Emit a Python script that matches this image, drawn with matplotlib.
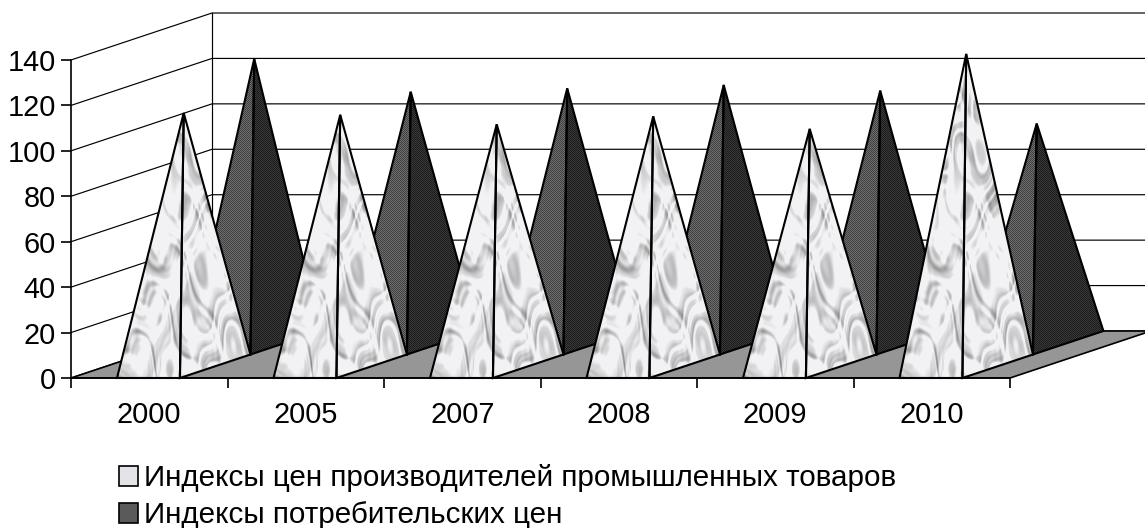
import matplotlib
matplotlib.use('Agg')
import matplotlib.pyplot as plt
from matplotlib.patches import Polygon, Patch
import numpy as np

years = ['2000', '2005', '2007', '2008', '2009', '2010']
producer_index = [111.5, 110.7, 106.5, 110.0, 104.5, 137.5]
consumer_index = [125.0, 110.5, 112.0, 113.5, 111.0, 96.5]
value_ticks = [0, 20, 40, 60, 80, 100, 120, 140]
series_names = ['Индексы цен производителей промышленных товаров',
                'Индексы потребительских цен']

W, H = 1145, 528
FONT = 'Liberation Sans'
# one category / one value in pixels, and the oblique shift of one series slot
CAT_PX = 156.5
VAL_PX = 318 / 140
DEPTH_X = 70.5 / CAT_PX
DEPTH_Y = 23.5 / VAL_PX
SLOTS = 2
BAR_L, BAR_R, BAR_MID = 0.294, 0.696, 0.495


def marble():
    # soft mottled grey made of warped sines, repeats once per category
    yy, xx = np.mgrid[0:H, 0:W]
    x = (xx % CAT_PX) * 2 * np.pi / CAT_PX
    y = yy + 14 * np.sin(2 * x + yy / 23) + 9 * np.sin(5 * x - yy / 17)
    x = x + 0.5 * np.sin(yy / 29 + 3 * x) + 0.3 * np.sin(yy / 13 - 4 * x)
    n = np.zeros((H, W))
    for a, fx, wy, ph in [(1.0, 2, 83, 0.3), (1.0, 3, -61, 1.7), (1.0, 5, 47, 4.1),
                          (0.9, 7, -41, 2.2), (0.8, 8, 33, 5.3), (0.6, 11, -27, 0.9),
                          (0.5, 13, 19, 3.3)]:
        n += a * np.sin(fx * x + y * 2 * np.pi / wy + ph)
    n = np.clip((n + 0.3) / 4.6, 0, 1)
    g = 242 - 100 * n
    return np.dstack([g, g, g + 3 * (1 - n)]).clip(0, 255) / 255


def pt(c, v, d=0):
    return (c + d * DEPTH_X, v + d * DEPTH_Y)


def dither(dark, light):
    yy, xx = np.mgrid[0:H, 0:W]
    g = np.where((xx + yy) % 2 == 0, dark, light)
    return np.dstack([g, g, g]) / 255


fig = plt.figure(figsize=(W / 100, H / 100), dpi=100)
ax = fig.add_axes([0, 0, 1, 1])
xlim = (-71 / CAT_PX, (W - 71) / CAT_PX)
ylim = ((378 - H) / VAL_PX, 378 / VAL_PX)
extent = (xlim[0], xlim[1], ylim[0], ylim[1])

# walls and floor
for v in value_ticks:
    ax.plot(*zip(pt(0, v), pt(0, v, SLOTS), pt(6, v, SLOTS)), color='black', lw=0.85, zorder=1)
ax.plot(*zip(pt(0, 0, SLOTS), pt(0, 140, SLOTS)), color='black', lw=0.85, zorder=1)
ax.add_patch(Polygon([pt(0, 0), pt(6, 0), pt(6, 0, SLOTS), pt(0, 0, SLOTS)],
                     facecolor='#969696', edgecolor='black', lw=1.2, zorder=2))

tex_light = marble()
tex_left = dither(62, 112)
tex_right = dither(28, 56)


def face(points, tex, z):
    poly = Polygon(points, facecolor='none', edgecolor='black', lw=1.5, joinstyle='miter', zorder=z + 0.1)
    ax.add_patch(poly)
    im = ax.imshow(tex, extent=extent, origin='upper', aspect='auto',
                   interpolation='nearest', zorder=z)
    im.set_clip_path(Polygon(points, transform=ax.transData))


for s, (values, front, side) in reversed(list(enumerate([(producer_index, tex_light, tex_light),
                                                         (consumer_index, tex_left, tex_right)]))):
    for i, val in enumerate(values):
        z = 3 + (1 - s) * 2 + i * 0.01
        top = pt(i + BAR_MID, val, s + 0.5)
        fl = pt(i + BAR_L, 0, s)
        fr = pt(i + BAR_R, 0, s)
        br = pt(i + BAR_R, 0, s + 1)
        face([fl, fr, top], front, z)
        face([fr, br, top], side, z)

ax.set_xlim(xlim)
ax.set_ylim(ylim)
for name in ['top', 'right']:
    ax.spines[name].set_visible(False)
ax.spines['left'].set_position(('data', 0))
ax.spines['bottom'].set_position(('data', 0))
ax.spines['left'].set_bounds(0, 140)
ax.spines['bottom'].set_bounds(0, 6)
for name in ['left', 'bottom']:
    ax.spines[name].set_linewidth(1.2)
    ax.spines[name].set_zorder(10)

ax.set_yticks(value_ticks)
ax.set_xticks(range(7))
ax.set_xticklabels([])
ax.set_xticks(np.arange(len(years)) + 0.5, minor=True)
ax.set_xticklabels(years, minor=True)
ax.tick_params(axis='both', which='major', length=7, width=1.2, direction='out')
ax.tick_params(axis='x', which='minor', length=0, pad=16.5, labelsize=20.8)
ax.tick_params(axis='y', which='major', pad=4, labelsize=20.8)
for t in ax.get_xticklabels(minor=True) + ax.get_yticklabels():
    t.set_fontfamily(FONT)

handles = [Patch(facecolor='#e4e4e8', edgecolor='black', lw=1.2),
           Patch(facecolor='#5a5a5a', edgecolor='black', lw=1.2)]
leg = ax.legend(handles, series_names, loc='lower left', bbox_to_anchor=(110 / W, -10 / H),
                frameon=False, prop={'family': FONT, 'size': 21.35},
                handlelength=0.66, handleheight=0.66, handletextpad=0.2,
                labelspacing=0.3, borderpad=0.3, borderaxespad=0)
leg.set_zorder(20)

fig.savefig('out.png', dpi=100, facecolor='white')
